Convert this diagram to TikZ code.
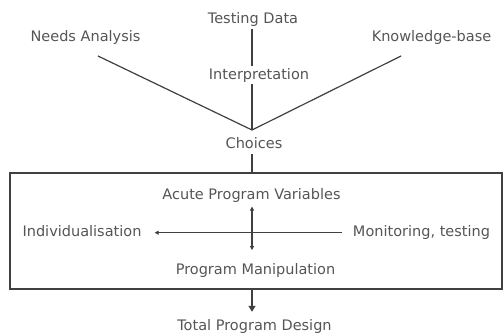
\documentclass[tikz,border=0pt]{standalone}
\usepackage{fontspec}
\setmainfont{DejaVu Sans}
\usetikzlibrary{arrows.meta}

\begin{document}
\begin{tikzpicture}[x=1pt, y=-1pt, font=\fontsize{14.5}{17}\selectfont]
    \definecolor{lineColour}{HTML}{404040}
    \definecolor{textColour}{HTML}{555555}

    \tikzset{
        termText/.style={text=textColour, anchor=base, inner sep=2pt},
        thinLine/.style={draw=lineColour, line width=1.2pt},
        smallArrow/.style={thinLine, -{Triangle[length=4pt, width=4pt]}},
        bigArrow/.style={draw=lineColour, line width=2pt, -{Triangle[length=6pt, width=7pt]}}
    }

    \useasboundingbox (0,0) rectangle (503,333);

    % Inputs at the top
    \node[termText] (testData) at (253,23.3) {Testing Data};
    \node[termText] (needsAnalysis) at (85.5,41.7) {Needs Analysis};
    \node[termText] (knowledgeBase) at (431.5,41.7) {Knowledge-base};
    \node[termText] (interpretation) at (259,79) {Interpretation};
    \node[termText] (choices) at (254,148) {Choices};

    % Meeting point of the three inputs
    \coordinate (vertex) at (252,130);
    \coordinate (needsEnd) at (98,56);
    \coordinate (knowEnd) at (401,56);

    \draw[thinLine] (testData.south -| vertex) -- (interpretation.north -| vertex);
    \draw[thinLine] (interpretation.south -| vertex) -- (vertex);
    \draw[thinLine] (needsEnd) -- (vertex);
    \draw[thinLine] (knowEnd) -- (vertex);

    % Frame round the program variables
    \node[thinLine, minimum width=492pt, minimum height=116pt, inner sep=0pt] (frame) at (256,230.9) {};
    \draw[thinLine, shorten <=4pt] (choices.south -| vertex) -- (frame.north -| vertex);

    \node[termText] (acuteVars) at (251.5,199.3) {Acute Program Variables};
    \node[termText] (individualisation) at (82,236.7) {Individualisation};
    \node[termText] (monitoring) at (421.5,236.7) {Monitoring, testing};
    \node[termText] (progManip) at (255.5,274.3) {Program Manipulation};

    \draw[smallArrow, shorten <=9pt, shorten >=11pt] (monitoring.west) -- (monitoring.west -| individualisation.east);
    \draw[smallArrow, {Triangle[length=4pt, width=4pt]}-{Triangle[length=4pt, width=4pt]}, shorten <=2pt, shorten >=11pt]
        (acuteVars.south -| vertex) -- (progManip.north -| vertex);

    % Output below the frame
    \node[termText] (totalDesign) at (254.5,330) {Total Program Design};
    \draw[bigArrow, shorten >=5pt] (frame.south -| vertex) -- (totalDesign.north -| vertex);

\end{tikzpicture}
\end{document}
